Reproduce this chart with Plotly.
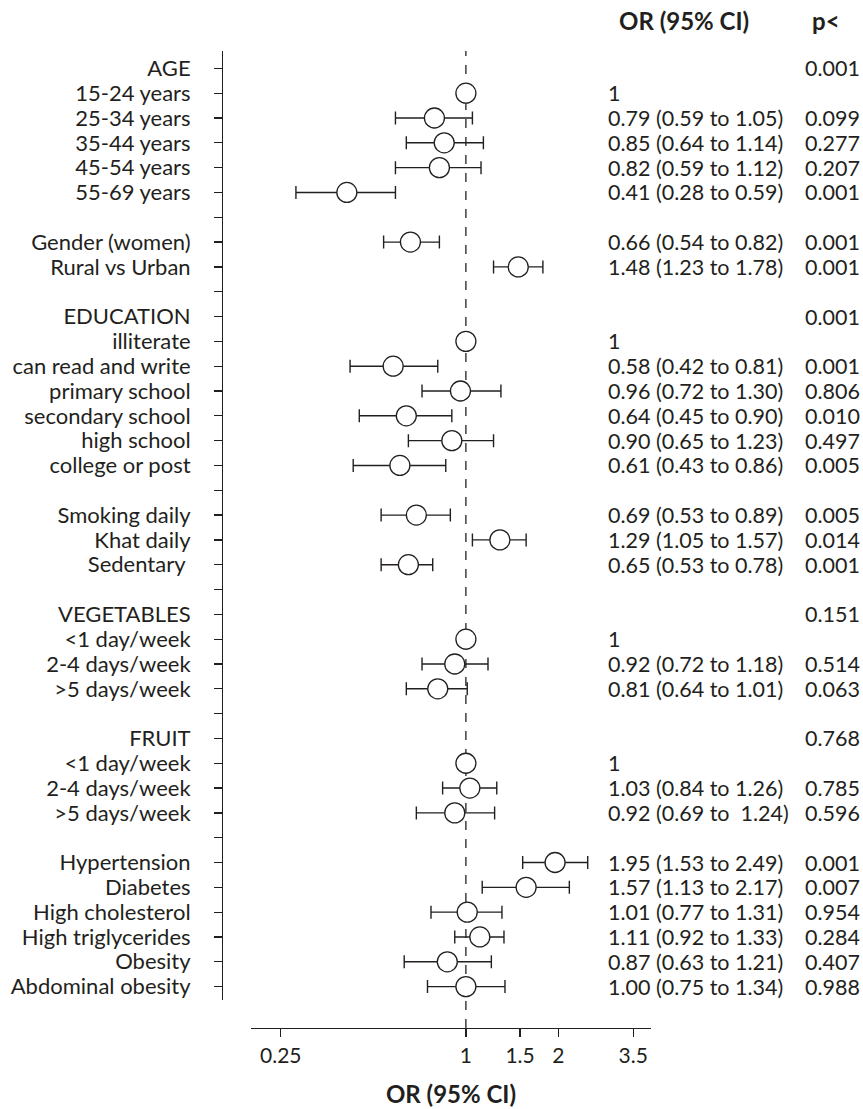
import plotly.graph_objects as go
import math

labels = ["AGE", "15-24 years", "25-34 years", "35-44 years", "45-54 years", "55-69 years", "",
          "Gender (women)", "Rural vs Urban", "",
          "EDUCATION", "illiterate", "can read and write", "primary school", "secondary school",
          "high school", "college or post", "",
          "Smoking daily", "Khat daily", "Sedentary ", "",
          "VEGETABLES", "<1 day/week", "2-4 days/week", ">5 days/week", "",
          "FRUIT", "<1 day/week", "2-4 days/week", ">5 days/week", "",
          "Hypertension", "Diabetes", "High cholesterol", "High triglycerides", "Obesity",
          "Abdominal obesity"]
odds = [None, 1, 0.79, 0.85, 0.82, 0.41, None,
        0.66, 1.48, None,
        None, 1, 0.58, 0.96, 0.64, 0.90, 0.61, None,
        0.69, 1.29, 0.65, None,
        None, 1, 0.92, 0.81, None,
        None, 1, 1.03, 0.92, None,
        1.95, 1.57, 1.01, 1.11, 0.87, 1.00]
lower = [None, 1, 0.59, 0.64, 0.59, 0.28, None,
         0.54, 1.23, None,
         None, 1, 0.42, 0.72, 0.45, 0.65, 0.43, None,
         0.53, 1.05, 0.53, None,
         None, 1, 0.72, 0.64, None,
         None, 1, 0.84, 0.69, None,
         1.53, 1.13, 0.77, 0.92, 0.63, 0.75]
upper = [None, 1, 1.05, 1.14, 1.12, 0.59, None,
         0.82, 1.78, None,
         None, 1, 0.81, 1.30, 0.90, 1.23, 0.86, None,
         0.89, 1.57, 0.78, None,
         None, 1, 1.18, 1.01, None,
         None, 1, 1.26, 1.24, None,
         2.49, 2.17, 1.31, 1.33, 1.21, 1.34]
or_text = ["", "1", "0.79 (0.59 to 1.05)", "0.85 (0.64 to 1.14)", "0.82 (0.59 to 1.12)",
           "0.41 (0.28 to 0.59)", "",
           "0.66 (0.54 to 0.82)", "1.48 (1.23 to 1.78)", "",
           "", "1", "0.58 (0.42 to 0.81)", "0.96 (0.72 to 1.30)", "0.64 (0.45 to 0.90)",
           "0.90 (0.65 to 1.23)", "0.61 (0.43 to 0.86)", "",
           "0.69 (0.53 to 0.89)", "1.29 (1.05 to 1.57)", "0.65 (0.53 to 0.78)", "",
           "", "1", "0.92 (0.72 to 1.18)", "0.81 (0.64 to 1.01)", "",
           "", "1", "1.03 (0.84 to 1.26)", "0.92 (0.69 to  1.24)", "",
           "1.95 (1.53 to 2.49)", "1.57 (1.13 to 2.17)", "1.01 (0.77 to 1.31)",
           "1.11 (0.92 to 1.33)", "0.87 (0.63 to 1.21)", "1.00 (0.75 to 1.34)"]
p_text = ["0.001", "", "0.099", "0.277", "0.207", "0.001", "",
          "0.001", "0.001", "",
          "0.001", "", "0.001", "0.806", "0.010", "0.497", "0.005", "",
          "0.005", "0.014", "0.001", "",
          "0.151", "", "0.514", "0.063", "",
          "0.768", "", "0.785", "0.596", "",
          "0.001", "0.007", "0.954", "0.284", "0.407", "0.988"]
x_ticks = [0.25, 1, 1.5, 2, 3.5]
x_tick_labels = ["0.25", "1", "1.5", "2", "3.5"]
header_or = "OR (95% CI)"
header_p = "p<"
x_title = "OR (95% CI)"

FONT = "Lato"
TXT = "#231f20"
W, H = 863, 1109
# plotting (paper) area in px
L, R, T, B = 222, 651, 51, 1028


def px_x(p):
    return (p - L) / (R - L)


def px_y(p):
    return (B - p) / (B - T)


rows = list(range(1, len(labels) + 1))
px_, py_, ep, em = [], [], [], []
for r, o, lo, hi in zip(rows, odds, lower, upper):
    if o is None:
        continue
    px_.append(o)
    py_.append(r)
    ep.append(hi - o)
    em.append(o - lo)

fig = go.Figure()
fig.add_trace(go.Scatter(
    x=px_, y=py_, mode="markers",
    marker=dict(symbol="circle", size=20, color="white", line=dict(color=TXT, width=1.3)),
    error_x=dict(type="data", symmetric=False, array=ep, arrayminus=em,
                 color=TXT, thickness=1.4, width=6.5),
    showlegend=False, hoverinfo="skip"))

NUM = dict(family=FONT, size=21.5, color=TXT)
annotations = []
for r, t1, t2 in zip(rows, or_text, p_text):
    if t1:
        annotations.append(dict(x=px_x(606), y=r, xref="paper", yref="y", text=t1,
                                showarrow=False, xanchor="left", yanchor="middle", font=NUM))
    if t2:
        annotations.append(dict(x=px_x(803), y=r, xref="paper", yref="y", text=t2,
                                showarrow=False, xanchor="left", yanchor="middle", font=NUM))
HEAD = dict(family=FONT, size=24, color=TXT)
annotations.append(dict(x=px_x(684), y=px_y(21), xref="paper", yref="paper",
                        text="<b>" + header_or + "</b>", showarrow=False,
                        xanchor="center", yanchor="middle", font=HEAD))
annotations.append(dict(x=px_x(826), y=px_y(21), xref="paper", yref="paper",
                        text="<b>" + header_p + "</b>", showarrow=False,
                        xanchor="center", yanchor="middle", font=HEAD))

fig.add_shape(type="line", xref="x", yref="paper", x0=1, x1=1, y0=0, y1=1,
              line=dict(color=TXT, width=1.3, dash="dash"), layer="below")

fig.update_layout(
    width=W, height=H,
    margin=dict(l=L, r=W - R, t=T, b=H - B, pad=0),
    paper_bgcolor="white", plot_bgcolor="white",
    font=dict(family=FONT, size=20, color=TXT),
    annotations=annotations,
    xaxis=dict(type="log", range=[math.log10(0.2), math.log10(4)],
               domain=[px_x(251), 1], anchor="free", position=0,
               automargin=False,
               tickvals=x_ticks, ticktext=x_tick_labels,
               ticks="outside", ticklen=8, tickwidth=1.3, tickcolor=TXT,
               showline=True, linecolor=TXT, linewidth=1.3,
               showgrid=False, zeroline=False,
               tickfont=dict(family=FONT, size=21, color=TXT),
               title=dict(text="<b>" + x_title + "</b>", standoff=20,
                          font=HEAD)),
    yaxis=dict(range=[38.54, 0.30], domain=[px_y(1000), 1],
               anchor="free", position=0, automargin=False,
               tickvals=rows, ticktext=labels,
               ticks="outside", ticklen=8, tickwidth=1.3, tickcolor=TXT,
               showline=True, linecolor=TXT, linewidth=1.3,
               showgrid=False, zeroline=False, ticklabelstandoff=19,
               tickfont=dict(family=FONT, size=22, color=TXT)),
)

fig.write_html("out.html",
               config={"displayModeBar": False, "staticPlot": True},
               post_script="document.body.style.margin='0';"
                           "document.body.style.overflow='hidden';")
